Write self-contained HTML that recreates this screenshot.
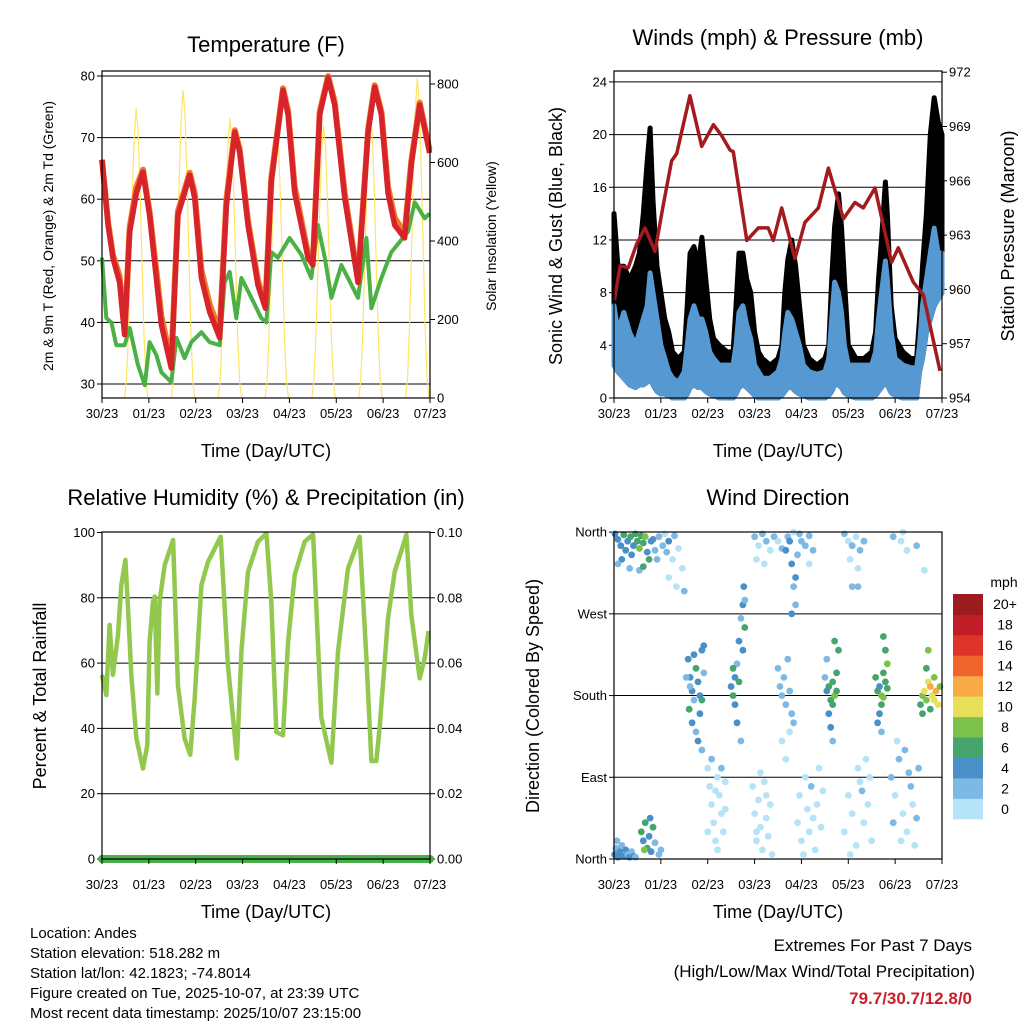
<!DOCTYPE html>
<html><head><meta charset="utf-8"><style>
html,body{margin:0;padding:0;background:#fff}
svg{display:block;font-family:"Liberation Sans",Arial,sans-serif}
</style></head><body>
<svg id="s" width="1024" height="1024" viewBox="0 0 1024 1024" xmlns="http://www.w3.org/2000/svg">
<g font-size="22" text-anchor="middle">
<text x="266" y="52">Temperature (F)</text>
<text x="778" y="45">Winds (mph) &amp; Pressure (mb)</text>
<text x="266" y="505">Relative Humidity (%) &amp; Precipitation (in)</text>
<text x="778" y="505">Wind Direction</text>
</g>
<g font-size="18" text-anchor="middle">
<text x="266" y="457">Time (Day/UTC)</text>
<text x="778" y="457">Time (Day/UTC)</text>
<text x="266" y="918">Time (Day/UTC)</text>
<text x="778" y="918">Time (Day/UTC)</text>
<text transform="translate(53,236) rotate(-90)" font-size="14">2m &amp; 9m T (Red, Orange) &amp; 2m Td (Green)</text>
<text transform="translate(496,236) rotate(-90)" font-size="14">Solar Insolation (Yellow)</text>
<text transform="translate(562,236) rotate(-90)">Sonic Wind &amp; Gust (Blue, Black)</text>
<text transform="translate(1014,236) rotate(-90)">Station Pressure (Maroon)</text>
<text transform="translate(46,696) rotate(-90)">Percent &amp; Total Rainfall</text>
<text transform="translate(539,696) rotate(-90)">Direction (Colored By Speed)</text>
</g>
<g font-size="15">
<text x="30" y="938">Location: Andes</text>
<text x="30" y="958">Station elevation: 518.282 m</text>
<text x="30" y="978">Station lat/lon: 42.1823; -74.8014</text>
<text x="30" y="998">Figure created on Tue, 2025-10-07, at 23:39 UTC</text>
<text x="30" y="1018">Most recent data timestamp: 2025/10/07 23:15:00</text>
</g>
<g font-size="17" text-anchor="end">
<text x="972" y="951">Extremes For Past 7 Days</text>
<text x="975" y="977">(High/Low/Max Wind/Total Precipitation)</text>
<text x="972" y="1004" fill="#c8202a" font-weight="bold">79.7/30.7/12.8/0</text>
</g>
</svg>
<script>
const dayLabels=["30/23","01/23","02/23","03/23","04/23","05/23","06/23","07/23"];
const tempTicks=[30,40,50,60,70,80];
const solarTicks=[0,200,400,600,800];
const windTicks=[0,4,8,12,16,20,24];
const presTicks=[954,957,960,963,966,969,972];
const rhTicks=[0,20,40,60,80,100];
const rainTicks=["0.00","0.02","0.04","0.06","0.08","0.10"];
const dirNames=["North","East","South","West","North"];
// temperature
const tHours=[0,3.1,5.6,9,11.6,14.2,17.6,21,24.4,27.8,30.4,35.5,38.9,44.9,47.5,50.9,55.1,60.3,63.7,68,70.5,74.8,79.9,83.7,86.7,92.7,95.3,98.7,105.5,108,111.5,115.8,119.2,124.3,131.1,136.3,139.7,143.1,146.5,149.9,155,158.4,162.7,167.8];
const tempRed=[66.4,55.8,50.5,46.5,38,54.7,61,64.4,57.4,47.2,39.6,32.6,57.4,63.9,60.2,47.2,41.7,37.5,59,70.9,67.7,55.8,46,42.3,62.8,77.7,73.7,61,50.5,49.3,73.7,79.7,75.3,60.2,46.5,70.9,78.2,73.7,61,55.8,53.7,65.6,75.3,67.5];
const tempOrange=[66.4,56.2,51,47.5,38.5,55.5,62,64.8,58,48.5,41,33.5,58,64.3,61,48.5,43,38.5,60,71.2,68.2,56.5,46.8,43,63.5,78,74.3,62,51.2,50,74.2,80,75.8,61,47,71.3,78.5,74.2,62,57,54.5,66.2,75.7,68];
const tdHours=[0,2.2,4.8,7.3,11.6,14.2,18.4,21.9,24.4,27.8,30.4,35.5,38.1,42.3,45.8,50.9,55.1,60.3,62.8,65.4,68.8,71.4,76.5,81.6,84.2,86.7,90.1,96.1,102.1,107.2,110.6,114.1,117.5,122.6,131.1,135.4,138,143.1,148.2,156.7,160.2,165.3,167.8];
const tempDew=[50.5,40.7,40,36.3,36.3,39.1,33.1,29.8,36.8,34.7,31.9,30.3,37.5,34.2,36.8,38.4,36.8,36.3,46.5,48.2,40.7,47.2,44,40.7,40,51.4,50.5,53.7,51,47.2,55.8,50.5,44,49.3,44,53.7,42.3,47.2,51.4,54.7,59.5,56.9,57.7];
const solarPeaks=[738,785,713,688,695,720,815];
const solarShape=[0,0.06,0.22,0.45,0.7,0.9,1,0.92,0.72,0.47,0.22,0.06,0];
// wind
const gustHours=[0,2,5,8,11,13,15,17,18.5,20,22,24,26,28,30,33,36,37.5,39,41,43,45,47,49,51,54,58,61,62.5,64,66,68,70,72,74,76,80,84,86,87.5,89,91,93,95,97,100,104,108,110,111.5,113,115,116.5,118,120,124,128,132,134,135.5,137,139,140,142,144,148,152,155,156.5,158,160,162,164,166,168];
const gustMax=[14,10,10,9,10,11,14,18,20.5,15,10,8,6,5,3.5,3,3.5,7,11,11.5,10,12.2,9,6,4.5,4,3.5,3.5,7,11,11,9,8,5,3.5,3,2.5,3,4,8,10.5,12,10,7,4,3,2.5,3,4,9,13,15.5,13,9,4,3,3,3.5,5,9,12,16.4,14,7,4.5,3.5,3,3,6,10,14,20,22.8,21,20];
const windHours=gustHours;
const windMax=[7,5,6.5,5,4,5,6,7,9.5,8,6,4,3,2,1.5,1.2,2,4,6,7,6,6,5,3.5,3,2.5,2.5,2.5,4,6.5,7,5.5,4.5,2.5,2,1.5,1.5,2,3,5,6.5,6,5,4,2.5,2,1.8,2,3,6,8.8,8,6.5,4,2.5,2.5,2.5,2.5,3.5,6,8,10.4,9,5,3,2.5,2.3,2.3,4,7,9,11,12.9,11,11];
const windMin=[2.5,2,1.5,1,0.8,1,1,1.2,1.5,1,0.5,0.3,0.3,0.2,0,0,0,0.3,0.8,1,0.8,0.8,0.5,0.3,0.2,0,0,0,0.3,0.8,1,0.8,0.5,0.2,0,0,0,0,0.2,0.5,0.8,0.8,0.5,0.3,0.2,0,0,0,0.2,0.5,1,1,0.8,0.4,0.2,0,0,0,0.2,0.5,0.8,1.2,1,0.4,0.2,0,0,0,2,3,5,6,7,7.5,8];
const presHours=[0.2,3.1,7.3,11.6,15.9,21,25.3,29.5,32.1,38.9,44.9,50.9,55.1,59.4,61.1,68,73.9,79,81.6,85.9,92.7,97.8,104.7,109.8,117.5,123.4,127.7,133.7,142.2,145.6,153.3,158.4,167];
const pressure=[959.4,961.3,961.2,962.5,963.4,962.1,964.7,967.1,967.5,970.7,967.9,969.1,968.5,967.7,967.6,962.7,963.4,963.4,962.7,964.5,961.7,963.7,964.5,966.7,963.9,964.8,964.5,965.6,961.5,962.3,960.4,959.7,955.5];
// humidity
const rhHours=[0,2.2,3.9,5.6,8.2,9.9,12,13.3,15,17.6,21,23.2,24.4,26.1,27,28.3,29.5,32.1,36.4,38.9,42.3,45.2,47.5,50.9,54.3,60.8,64.5,67.1,69.1,71.4,74.8,79.9,84.2,86.7,89.3,92.7,95.3,98.7,103.8,108.1,112.3,117.5,120.9,126,132,135.4,138,140.5,142.2,146.5,149.9,155.9,158.4,162.7,165.3,167.3];
const rhValues=[56.4,50.2,71.7,56.4,68.6,83.9,91.6,76.8,56.4,36.9,27.7,34.9,66.6,78.9,80.4,50.7,78.9,90,97.7,53.3,36.9,31.9,49.2,83.9,91,98.7,59.4,43.3,30.8,63.5,88,97.2,99.7,78.9,38.9,37.9,66.6,87,97.2,99.4,43.3,29.5,63.5,89,98.7,61.5,30,30,40.1,73.7,88,99.3,74.7,55.3,61.5,69.8];
const rainHours=[0,168];
const rainValues=[0,0];
// direction
const dirHour=[0.5,2,3.5,5,6,7,8.5,9,10,11,12,13,14,15,16,17,18,19,4,8,13,15,20,21,22,2,
0.3,1,2,3,4,5,6,7,8,9,10,1.5,11,
14,15,16,17,18,19,20,15.5,18.5,21,24,23,
23,25,26,27,28,30,31,33,35,32,28,36,
38,39,40,41,42,43,44,45,46,38.5,40,42,44,46,41,43,45,39,37,45,
48,49,50,51,52,53,54,55,56,50,53,57,48,55,52,57,
60,61,62,63,64,65,66,66.5,67,62,64,63,65,61,66,67,
72,74,76,78,80,82,73,77,84,86,
71,72,73,74,75,76,77,78,79,80,81,75,78,73,
84,85,86,87,88,89,90,91,86,88,90,92,
88,89,90,91,92,93,94,95,96,98,100,102,93,91,92,
94,95,96,98,99,100,101,103,104,105,106,97,102,107,
108,109,110,111,112,113,114,115,113,110,111,112,109,114,112,
118,120,122,124,126,128,121,125,122,
118,120,122,124,126,128,130,132,125,129,121,127,131,
134,135,136,137,138,139,140,139,138,137,136,135,137,138,140,
142,144,146,148,150,152,154,156,145,149,153,147,143,155,151,
157,158,159,160,161,162,163,164,165,166,167,160,162,158,161,164,
143,147,150,155,148,159,125,100];
const dirDeg=[358,352,345,357,340,350,355,335,345,358,350,342,356,348,355,338,330,350,330,320,318,322,352,340,330,325,
5,12,2,8,15,3,10,5,2,8,3,20,2,
30,20,40,12,25,8,35,10,45,18,10,5,
355,345,358,338,350,330,356,342,320,300,310,295,
220,200,185,175,210,195,180,230,205,165,150,140,160,235,225,130,175,190,200,120,
100,80,60,40,20,90,70,50,30,110,10,85,30,100,75,55,
190,180,200,215,240,265,280,300,255,170,195,150,130,210,230,285,
355,345,358,350,340,355,330,325,350,342,
80,50,20,65,35,10,85,45,25,60,5,95,70,30,
210,190,180,200,170,220,185,160,130,110,140,150,
340,355,350,325,300,280,335,358,350,345,356,340,310,270,360,
40,70,20,90,55,30,80,10,60,100,35,5,45,75,
200,185,190,175,195,180,205,230,240,160,145,130,220,185,170,
358,350,345,355,340,350,330,320,300,
30,70,50,15,85,40,60,20,100,110,5,75,90,
200,185,190,180,205,195,215,230,245,170,160,150,140,178,188,
90,70,110,50,30,80,15,100,130,120,60,20,40,45,95,
170,180,185,175,195,190,180,200,185,170,190,210,165,160,230,175,
355,350,340,345,360,318,300,325];
const dirSpd=[5,4,5,6,4,5,7,4,5,6,7,8,6,7,8,5,6,4,4,3,2,6,5,3,2,3,
4,3,4,4,3,4,4,3,4,3,4,2,3,
6,5,7,6,5,4,6,8,4,3,2,3,
2,3,1,2,4,1,2,1,1,1,1,3,
4,4,5,3,6,4,5,4,3,6,4,3,5,4,5,4,6,3,2,3,
1,1,1,0,1,1,0,1,1,2,1,1,1,2,1,1,
5,6,4,3,5,3,4,5,6,4,7,4,3,6,4,3,
2,1,2,2,1,2,1,1,1,2,
0,1,0,1,0,1,1,0,1,1,0,1,0,1,
3,2,3,2,3,2,3,2,1,1,1,2,
4,3,4,4,3,2,3,2,3,2,2,2,4,4,1,
1,1,0,1,0,1,2,1,1,1,0,1,1,1,
3,5,6,7,6,8,6,7,6,4,4,3,2,7,6,
2,1,2,1,2,2,1,1,3,
1,0,1,0,1,1,0,1,1,1,0,2,1,
6,7,5,8,7,6,8,6,7,6,4,4,3,9,7,
2,1,2,1,1,2,1,2,1,2,1,1,2,3,3,
6,8,10,9,10,12,11,9,12,10,8,7,7,6,8,10,
2,1,1,2,1,1,3,1];
const cbLabels=["0","2","4","6","8","10","12","14","16","18","20+"];
const cbColors=["#b5e3f8","#7db9e4","#4a90c8","#46a56d","#7cc24a","#e8e05a","#f8aa47","#f0652b","#de3329","#c01d26","#9b1b1f"];

const NS="http://www.w3.org/2000/svg";
const svg=document.getElementById('s');
function mk(tag,attrs,parent){const e=document.createElementNS(NS,tag);for(const k in attrs)e.setAttribute(k,attrs[k]);(parent||svg).appendChild(e);return e;}
const HW=328/168;
const xL=h=>102+h*HW, xR=h=>614+h*HW;
const yTemp=t=>384-(t-30)*6.16, ySolar=s=>398-s*0.3925;
const yWind=v=>398-v*13.17, yPres=p=>398-(p-954)*18.1;
const yRH=r=>859-r*3.265, yRain=v=>859-v*3265, yDir=d=>859-d*0.908;
function pts(hs,vs,fx,fy){return hs.map((h,i)=>fx(h).toFixed(1)+','+fy(vs[i]).toFixed(1)).join(' ');}

function panel(name){
  const g=mk('g',{});
  
  
  return g;
}
function xAxis(g,xf,yb,ly){
  dayLabels.forEach((lab,i)=>{
    const x=xf(i*24);
    mk('line',{x1:x,y1:yb,x2:x,y2:yb+5,stroke:'#000','stroke-width':1},g);
    const t=mk('text',{x:x,y:ly,'font-size':13,'text-anchor':'middle'},g);
    
    
    t.textContent=lab;
  });
}
function box(g,x0,y0,x1,y1){
  const r=mk('rect',{x:x0,y:y0,width:x1-x0,height:y1-y0,fill:'none',stroke:'#000','stroke-width':1.2},g);
  
  
}
function hgrid(g,x0,x1,y){mk('line',{x1:x0,y1:y,x2:x1,y2:y,stroke:'#000','stroke-width':1},g);}
function ylab(g,x,y,txt,anchor){
  mk('line',{x1:anchor==='end'?x+1:x-6,y1:y,x2:anchor==='end'?x+6:x-1,y2:y,stroke:'#000'},g);
  const t=mk('text',{x:anchor==='end'?x-1:x+1,y:y+4.5,'font-size':13,'text-anchor':anchor},g);
  
  
  t.textContent=txt;
}

// ---- Temperature panel
let g=panel('temperature-panel');
tempTicks.forEach(v=>{hgrid(g,102,430,yTemp(v));ylab(g,96,yTemp(v),String(v),'end');});
solarTicks.forEach(v=>ylab(g,436,ySolar(v),String(v),'start'));
solarPeaks.forEach((pk,d)=>{
  const hs=solarShape.map((s,k)=>11.5+24*d+k);
  const vs=solarShape.map(s=>s*pk);
  const l=mk('polyline',{points:pts(hs,vs,xL,ySolar),fill:'none',stroke:'#ffe566','stroke-width':1.2},g);
  
  
});
let l=mk('polyline',{points:pts(tdHours,tempDew,xL,yTemp),fill:'none',stroke:'#4bb045','stroke-width':4,'stroke-linejoin':'round'},g);


l=mk('polyline',{points:pts(tHours,tempOrange,xL,yTemp),fill:'none',stroke:'#f07b2b','stroke-width':6,'stroke-linejoin':'round'},g);


l=mk('polyline',{points:pts(tHours,tempRed,xL,yTemp),fill:'none',stroke:'#d7242a','stroke-width':5.5,'stroke-linejoin':'round'},g);


box(g,102,71,430,398);xAxis(g,xL,398,418);

// ---- Wind panel
g=panel('wind-panel');
windTicks.forEach(v=>{if(v>0)hgrid(g,614,942,yWind(v));ylab(g,608,yWind(v),String(v),'end');});
presTicks.forEach(v=>ylab(g,948,yPres(v),String(v),'start'));
let gUp=gustHours.map((h,i)=>xR(h).toFixed(1)+','+yWind(gustMax[i]).toFixed(1));
let gDn=gustHours.map((h,i)=>xR(h).toFixed(1)+','+yWind(windMin[i]).toFixed(1)).reverse();
l=mk('polygon',{points:gUp.concat(gDn).join(' '),fill:'#000',stroke:'#000','stroke-width':5,'stroke-linejoin':'round'},g);


let up=windHours.map((h,i)=>xR(h).toFixed(1)+','+yWind(windMax[i]).toFixed(1));
let dn=windHours.map((h,i)=>xR(h).toFixed(1)+','+yWind(windMin[i]).toFixed(1)).reverse();
l=mk('polygon',{points:up.concat(dn).join(' '),fill:'#5598d2',stroke:'#5598d2','stroke-width':5,'stroke-linejoin':'round'},g);


l=mk('polyline',{points:pts(presHours,pressure,xR,yPres),fill:'none',stroke:'#a31b1f','stroke-width':3.5,'stroke-linejoin':'round'},g);


box(g,614,71,942,398);xAxis(g,xR,398,418);

// ---- RH panel
g=panel('humidity-panel');
rhTicks.forEach((v,i)=>{if(v>0&&v<100)hgrid(g,102,430,yRH(v));ylab(g,96,yRH(v),String(v),'end');ylab(g,436,yRH(v),rainTicks[i],'start');});
l=mk('polyline',{points:pts(rhHours,rhValues,xL,yRH),fill:'none',stroke:'#92c84e','stroke-width':4.5,'stroke-linejoin':'round'},g);


l=mk('polyline',{points:pts(rainHours,rainValues,xL,yRain),fill:'none',stroke:'#47ae48','stroke-width':8,'stroke-linecap':'round'},g);


box(g,102,532,430,859);xAxis(g,xL,859,889);

// ---- Direction panel
g=panel('direction-panel');
dirNames.forEach((n,i)=>{const y=yDir(i*90);if(i>0&&i<4)hgrid(g,614,942,y);ylab(g,608,y,n,'end');});
function spdColor(s){let k=Math.floor(s/2);if(k>10)k=10;return cbColors[k];}
dirHour.forEach((h,i)=>{
  const c=mk('circle',{cx:xR(h).toFixed(1),cy:yDir(dirDeg[i]).toFixed(1),r:3.4,fill:spdColor(dirSpd[i])},g);
  
  
});
box(g,614,532,942,859);xAxis(g,xR,859,889);

// ---- Colorbar
g=panel('speed-colorbar');
const cbH=(819-594)/11;
cbColors.forEach((c,i)=>{
  const y=819-(i+1)*cbH;
  const r=mk('rect',{x:953,y:y.toFixed(1),width:30,height:(cbH+0.3).toFixed(1),fill:c},g);
  
  
  const t=mk('text',{x:1005,y:(y+cbH/2+5).toFixed(1),'font-size':14,'text-anchor':'middle'},g);
  
  
  t.textContent=cbLabels[i];
});
const mt=mk('text',{x:1004,y:587,'font-size':14,'text-anchor':'middle'},g);


mt.textContent='mph';
</script>
</body></html>
